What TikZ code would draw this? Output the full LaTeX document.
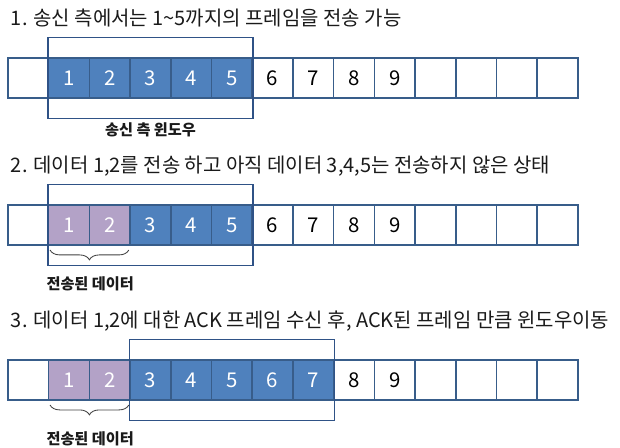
\documentclass[tikz,border=0pt]{standalone}
\usepackage{fontspec}
\setmainfont{Noto Sans CJK KR}
\usetikzlibrary{positioning, fit, decorations.pathreplacing}

\definecolor{cellblue}{HTML}{4F81BD}
\definecolor{cellline}{HTML}{385D8A}
\definecolor{sentpurple}{HTML}{B3A2C7}
\definecolor{winline}{HTML}{2F5286}
\definecolor{titlegray}{HTML}{1A1A1A}

\begin{document}
\begin{tikzpicture}[x=0.025cm, y=-0.025cm,
    cell/.style={rectangle, draw=cellline, line width=1.1pt, minimum width=1.0175cm,
                 minimum height=1cm, inner sep=0pt, font=\fontsize{14.5}{16}\selectfont},
    win/.style={fill=cellblue, text=white},
    sent/.style={fill=sentpurple, text=white},
    window/.style={rectangle, draw=winline, line width=1.1pt, inner xsep=0pt, inner ysep=14pt},
    title/.style={anchor=west, text=titlegray, font=\fontsize{14.2}{16}\selectfont},
    caption/.style={font=\fontsize{10.8}{12}\selectfont\bfseries, text=titlegray},
    brace/.style={decorate, decoration={brace, mirror, amplitude=7pt, raise=3pt},
                  draw=black!75, line width=0.6pt}
]
    \useasboundingbox (0,0) rectangle (620,448);

    % === 1. Sender window over frames 1-5 ===
    \node[title] (t1) at (6,18) {1. 송신 측에서는 1\textasciitilde5까지의 프레임을 전송 가능};

    \node[cell] (a0) at (28.36,78) {};
    \foreach \i in {1,...,5} \node[cell, win] (a\i) at ({28.36+40.71*\i},78) {\i};
    \foreach \i in {6,...,9} \node[cell] (a\i) at ({28.36+40.71*\i},78) {\i};
    \foreach \i in {10,...,13} \node[cell] (a\i) at ({28.36+40.71*\i},78) {};

    \node[window, fit=(a1)(a5)] (w1) {};
    \node[caption, below=-1pt of w1] (wl1) {송신 측 윈도우};

    % === 2. Frames 1,2 sent, 3-5 not yet ===
    \node[title] (t2) at (6,166) {2. 데이터 1,2를 전송 하고 아직 데이터 3,4,5는 전송하지 않은 상태};

    \node[cell] (b0) at (28.36,225) {};
    \foreach \i in {1,2} \node[cell, sent] (b\i) at ({28.36+40.71*\i},225) {\i};
    \foreach \i in {3,...,5} \node[cell, win] (b\i) at ({28.36+40.71*\i},225) {\i};
    \foreach \i in {6,...,9} \node[cell] (b\i) at ({28.36+40.71*\i},225) {\i};
    \foreach \i in {10,...,13} \node[cell] (b\i) at ({28.36+40.71*\i},225) {};

    \node[window, fit=(b1)(b5)] (w2) {};
    \draw[brace] ([xshift=1.5pt]b1.south west) -- ([xshift=-1.5pt]b2.south east);
    \node[caption, below=0.64cm of b1.south east] (sl2) {전송된 데이터};

    % === 3. ACK for 1,2 received, window slides ===
    \node[title] (t3) at (6,321) {3. 데이터 1,2에 대한 ACK 프레임 수신 후, ACK된 프레임 만큼 윈도우이동};

    \node[cell] (c0) at (28.36,380) {};
    \foreach \i in {1,2} \node[cell, sent] (c\i) at ({28.36+40.71*\i},380) {\i};
    \foreach \i in {3,...,7} \node[cell, win] (c\i) at ({28.36+40.71*\i},380) {\i};
    \foreach \i in {8,9} \node[cell] (c\i) at ({28.36+40.71*\i},380) {\i};
    \foreach \i in {10,...,13} \node[cell] (c\i) at ({28.36+40.71*\i},380) {};

    \node[window, fit=(c3)(c7)] (w3) {};
    \draw[brace] ([xshift=1.5pt]c1.south west) -- ([xshift=-1.5pt]c2.south east);
    \node[caption, below=0.64cm of c1.south east] (sl3) {전송된 데이터};

\end{tikzpicture}
\end{document}
